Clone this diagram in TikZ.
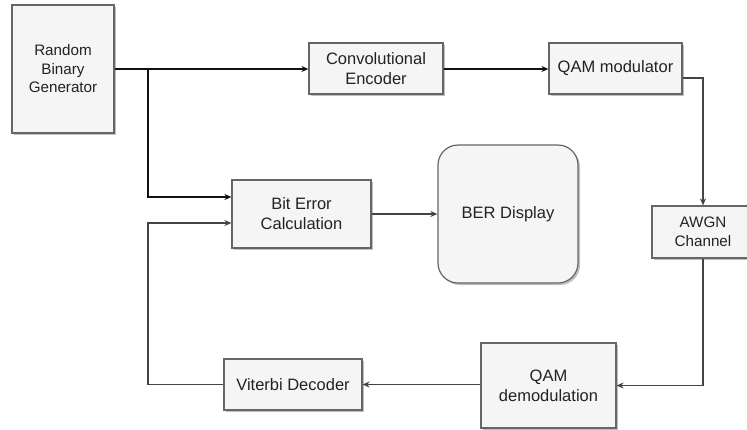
\documentclass[tikz,border=0pt]{standalone}
\usepackage{fontspec}
\setmainfont{Liberation Sans}
\usetikzlibrary{arrows.meta,shadows,calc}
\definecolor{boxfill}{HTML}{F5F5F5}
\definecolor{boxline}{HTML}{666666}
\definecolor{txt}{HTML}{222222}
\definecolor{lineA}{HTML}{111111}
\definecolor{lineB}{HTML}{444444}
\tikzset{
  blk/.style={draw=boxline, fill=boxfill, line width=1.2pt, align=center, text=txt,
    inner sep=0pt, font=\fontsize{16.5}{20}\selectfont,
    drop shadow={shadow xshift=2pt, shadow yshift=-2pt, opacity=0.25, fill=black}},
  smallfont/.style={font=\fontsize{15.2}{18.5}\selectfont},
  conA/.style={draw=lineA, line width=1.3pt, -{Stealth[length=7pt,width=6pt]}},
  conB/.style={draw=lineB, line width=1.3pt, -{Stealth[length=7pt,width=6pt]}},
}
\begin{document}
\begin{tikzpicture}[x=1pt,y=-1pt]
\useasboundingbox (0,0) rectangle (747,429);
\clip (0,0) rectangle (747,429);
\fill[white] (0,0) rectangle (747,429);
% nodes
\node[blk, smallfont, minimum width=102pt, minimum height=128pt] (rbg) at (63,69) {Random\\Binary\\Generator};
\node[blk, minimum width=134pt, minimum height=51pt] (ce) at (376,68.5) {Convolutional\\Encoder};
\node[blk, minimum width=133pt, minimum height=51pt] (qm) at (615.5,68.5) {QAM modulator};
\node[blk, smallfont, minimum width=102pt, minimum height=52pt] (awgn) at (703,232) {AWGN\\Channel};
\node[blk, minimum width=139pt, minimum height=68pt] (bec) at (301.5,214) {Bit Error\\Calculation};
\node[blk, rounded corners=20pt, minimum width=140pt, minimum height=138pt] (ber) at (508,214) {BER Display};
\node[blk, minimum width=135pt, minimum height=85pt] (qd) at (548.5,385.5) {QAM\\demodulation};
\node[blk, minimum width=138pt, minimum height=51pt] (vd) at (293,384.5) {Viterbi Decoder};
\coordinate (br) at (148,69);
\coordinate (inA) at ([yshift=17pt]bec.west);
\coordinate (inB) at ([yshift=-9pt]bec.west);
% connectors
\draw[conA] (rbg.east |- br) -- (ce.west |- br);
\draw[conA] (br) |- (inA);
\draw[conA] (ce.east |- br) -- (qm.west |- br);
\draw[conB] ([yshift=-9.5pt]qm.east) -| (awgn.north);
\draw[conB] (awgn.south) |- (qd.east);
\draw[conB] (qd.west |- vd.east) -- (vd.east);
\draw[conB] (vd.west) -| (br |- inB) -- (inB);
\draw[conB] (bec.east) -- (ber.west);
\end{tikzpicture}
\end{document}
